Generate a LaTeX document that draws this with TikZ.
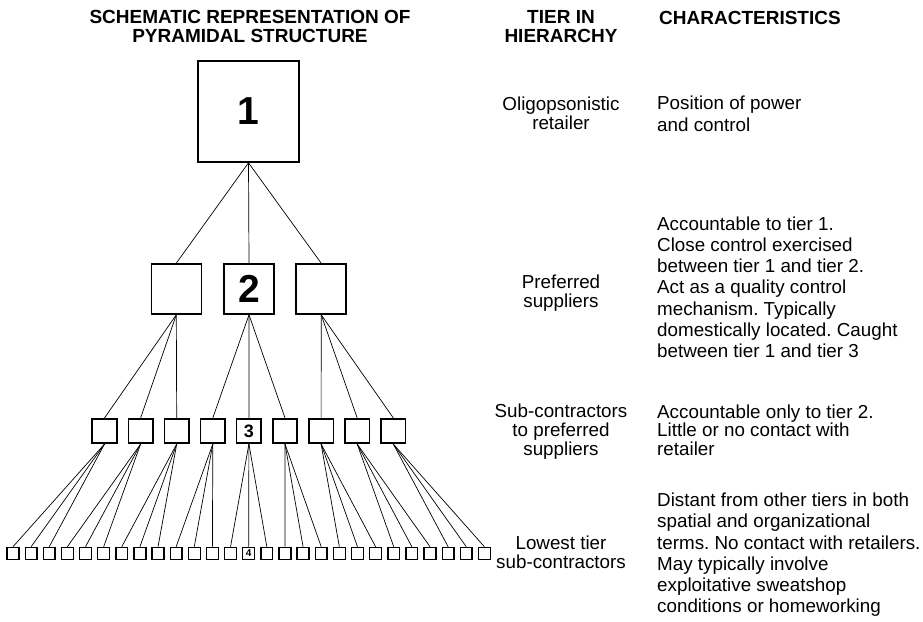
\documentclass[tikz,border=0pt]{standalone}
\usepackage{fontspec}
\setmainfont{Liberation Sans}
\frenchspacing
\usetikzlibrary{positioning}

\begin{document}
\begin{tikzpicture}[x=1pt, y=-1pt,
    box/.style={rectangle, draw, line width=1.6pt, inner sep=0pt, font=\bfseries},
    link/.style={line width=0.7pt},
    head/.style={font=\fontsize{19}{18.3}\selectfont\bfseries, align=center, inner sep=0pt, anchor=base},
    tier/.style={font=\fontsize{18.8}{18.7}\selectfont, align=center, inner sep=0pt, anchor=base},
    chars/.style={font=\fontsize{18.8}{21.2}\selectfont, align=left, inner sep=0pt, anchor=base west}
]
\useasboundingbox (0,0) rectangle (923,621);

% pyramid
\node[box, minimum size=101pt, font=\fontsize{39}{39}\selectfont\bfseries] (t1) at (248.5,111.5) {1};
\node[box, minimum size=50pt] (t2a) at (176.3,289) {};
\node[box, minimum size=50pt, font=\fontsize{39}{39}\selectfont\bfseries] (t2b) at (249,289) {2};
\node[box, minimum size=50pt] (t2c) at (321.2,289) {};
\foreach \i in {0,...,8}
    \node[box, minimum size=24.5pt, font=\fontsize{18}{18}\selectfont\bfseries] (t3-\i) at ({104.5+36.1*\i},431) {\ifnum\i=4 3\fi};
\foreach \i in {0,...,26}
    \node[box, minimum size=11.8pt, line width=1.4pt, font=\fontsize{10}{10}\selectfont\bfseries] (t4-\i) at ({13+18.13*\i},553.3) {\ifnum\i=13 4\fi};

\foreach \k in {a,b,c}
    \draw[link] (t1.south) -- (t2\k.north);
\foreach \p/\c in {a/0,a/1,a/2,b/3,b/4,b/5,c/6,c/7,c/8}
    \draw[link] (t2\p.south) -- (t3-\c.north);
\foreach \i in {0,...,26} {
    \pgfmathtruncatemacro\up{int(\i/3)}
    \draw[link] (t3-\up.south) -- (t4-\i.north);
}

% headings (base = last line)
\node[head] (hstruct) at (250,42.3) {SCHEMATIC REPRESENTATION OF\\PYRAMIDAL STRUCTURE};
\node[head] (htier) at (561,42.3) {TIER IN\\HIERARCHY};
\node[head, anchor=base west] (hchar) at (659,24) {CHARACTERISTICS};

% tiers
\node[tier] (tier1) at (561,129) {Oligopsonistic\\retailer};
\node[tier] (tier2) at (561,307) {Preferred\\suppliers};
\node[tier] (tier3) at (561,455.3) {Sub-contractors\\to preferred\\suppliers};
\node[tier] (tier4) at (561,568.5) {Lowest tier\\sub-contractors};

% characteristics
\node[chars] (char1) at (657,131) {Position of power\\and control};
\node[chars] (char2) at (657,357.5) {Accountable to tier 1.\\Close control exercised\\between tier 1 and tier 2.\\Act as a quality control\\mechanism. Typically\\domestically located. Caught\\between tier 1 and tier 3};
\node[chars, font=\fontsize{18.8}{18.5}\selectfont] (char3) at (657,455.3) {Accountable only to tier 2.\\Little or no contact with\\retailer};
\node[chars] (char4) at (657,612.7) {Distant from other tiers in both\\spatial and organizational\\terms. No contact with retailers.\\May typically involve\\exploitative sweatshop\\conditions or homeworking};
\end{tikzpicture}
\end{document}
